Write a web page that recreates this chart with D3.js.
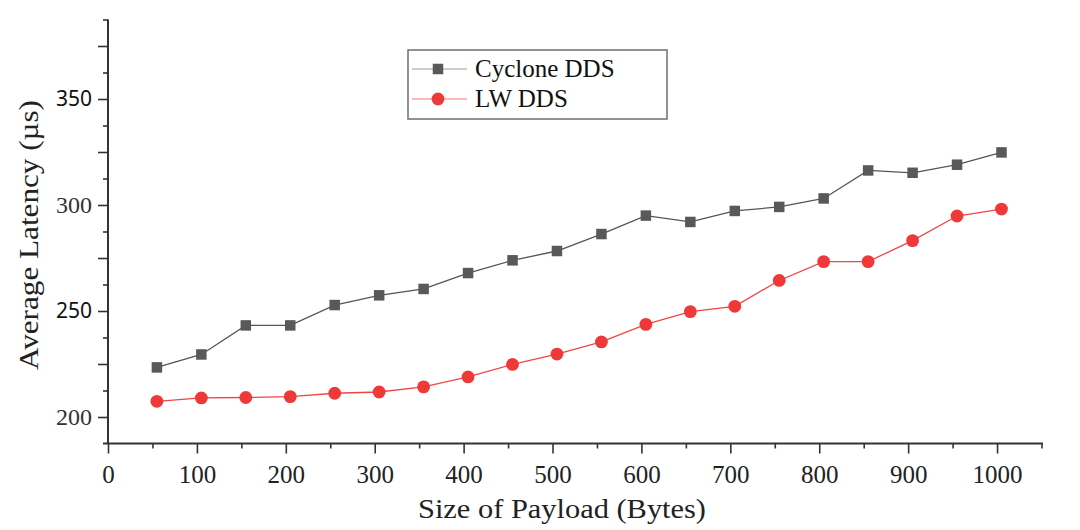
<!DOCTYPE html>
<html>
<head>
<meta charset="utf-8">
<script src="https://cdn.jsdelivr.net/npm/d3@7"></script>
<style>
  html, body { margin: 0; padding: 0; background: #fff; }
  svg { display: block; }
</style>
</head>
<body>
<svg id="chart" width="1080" height="530"></svg>
<script>
// ---- data ----
const payloadSizes = [55, 105, 155, 205, 255, 305, 355, 405, 455, 505, 555, 605, 655, 705, 755, 805, 855, 905, 955, 1005];
const cycloneLatency = [223.4, 229.5, 243.2, 243.2, 252.8, 257.4, 260.4, 267.9, 273.9, 278.3, 286.3, 295.0, 292.0, 297.2, 299.1, 303.1, 316.3, 315.2, 319.0, 324.8];
const lwLatency = [207.4, 209.0, 209.2, 209.6, 211.2, 211.8, 214.2, 218.9, 224.8, 229.7, 235.4, 243.7, 249.7, 252.2, 264.4, 273.3, 273.3, 283.2, 294.8, 298.1];
const seriesNames = ["Cyclone DDS", "LW DDS"];
const xTickLabels = [0, 100, 200, 300, 400, 500, 600, 700, 800, 900, 1000];
const yTickLabels = [200, 250, 300, 350];
const xTitle = "Size of Payload (Bytes)";
const yTitle = "Average Latency (µs)";

// ---- layout ----
const svg = d3.select("#chart");
const serif = "'Liberation Serif', 'Times New Roman', serif";
const x = d3.scaleLinear().domain([0, 1050]).range([108, 1041.5]);
const y = d3.scaleLinear().domain([187.5, 387.5]).range([443.5, 19.5]);
const axisColor = "#333";

// y axis: major (every 25) + minor (every 12.5)
const yMajor = d3.range(200, 387.5, 25);
const yMinor = d3.range(212.5, 390, 25);
const gyMinor = svg.append("g").attr("transform", `translate(${x(0)},0)`)
  .call(d3.axisLeft(y).tickValues(yMinor).tickSize(5).tickFormat(""));
const gy = svg.append("g").attr("transform", `translate(${x(0)},0)`)
  .call(d3.axisLeft(y).tickValues(yMajor).tickSize(10).tickPadding(6)
    .tickFormat(d => yTickLabels.includes(d) ? String(d) : ""));
[gy, gyMinor].forEach(g => {
  g.select(".domain").remove();
  g.selectAll(".tick line").attr("stroke", axisColor).attr("stroke-width", 1.6);
});
gy.selectAll(".tick text")
  .attr("font-family", d => (d === 350 || d === 250) ? "'Noto Sans', 'Open Sans', sans-serif" : serif)
  .attr("font-size", d => (d === 350 || d === 250) ? 21 : 24)
  .attr("fill", d => (d === 350 || d === 250) ? "#111" : "#333");
svg.append("line")
  .attr("x1", x(0)).attr("x2", x(0)).attr("y1", y(387.5)).attr("y2", y(187.5))
  .attr("stroke", axisColor).attr("stroke-width", 2);

// x axis: major (every 100) + minor (every 50)
const xMinor = d3.range(50, 1100, 100);
const gxMinor = svg.append("g").attr("transform", `translate(0,${y(187.5)})`)
  .call(d3.axisBottom(x).tickValues(xMinor).tickSize(5).tickFormat(""));
const gx = svg.append("g").attr("transform", `translate(0,${y(187.5)})`)
  .call(d3.axisBottom(x).tickValues(xTickLabels).tickSize(10).tickPadding(12)
    .tickFormat(d => String(d)));
[gx, gxMinor].forEach(g => {
  g.select(".domain").remove();
  g.selectAll(".tick line").attr("stroke", axisColor).attr("stroke-width", 1.6);
});
gx.selectAll(".tick text")
  .attr("font-family", serif).attr("font-size", 25).attr("fill", "#222");
svg.append("line")
  .attr("x1", x(0) - 5).attr("x2", x(1050) + 1.5).attr("y1", y(187.5)).attr("y2", y(187.5))
  .attr("stroke", axisColor).attr("stroke-width", 2);

// axis titles
svg.append("text")
  .attr("x", 418).attr("y", 518)
  .attr("font-family", serif).attr("font-size", 28).attr("fill", "#222")
  .attr("textLength", 288).attr("lengthAdjust", "spacingAndGlyphs")
  .text(xTitle);
svg.append("text")
  .attr("transform", "translate(38,235) rotate(-90)")
  .attr("text-anchor", "middle")
  .attr("font-family", serif).attr("font-size", 28).attr("fill", "#222")
  .attr("textLength", 270).attr("lengthAdjust", "spacingAndGlyphs")
  .text(yTitle);

// ---- series ----
const cycloneColor = "#595959";
const lwColor = "#ef3838";
const line = d3.line().x(d => x(d[0])).y(d => y(d[1]));
const cyData = payloadSizes.map((s, i) => [s, cycloneLatency[i]]);
const lwData = payloadSizes.map((s, i) => [s, lwLatency[i]]);

svg.append("path").datum(cyData).attr("d", line)
  .attr("fill", "none").attr("stroke", "#555").attr("stroke-width", 1.3);
svg.append("path").datum(lwData).attr("d", line)
  .attr("fill", "none").attr("stroke", "#f04545").attr("stroke-width", 1.3);

const sq = 10.5;
svg.append("g").selectAll("rect").data(cyData).join("rect")
  .attr("x", d => x(d[0]) - sq / 2).attr("y", d => y(d[1]) - sq / 2)
  .attr("width", sq).attr("height", sq).attr("fill", cycloneColor);
svg.append("g").selectAll("circle").data(lwData).join("circle")
  .attr("cx", d => x(d[0])).attr("cy", d => y(d[1])).attr("r", 6.4)
  .attr("fill", lwColor);

// ---- legend ----
const lg = svg.append("g");
lg.append("rect").attr("x", 408).attr("y", 50).attr("width", 259).attr("height", 69)
  .attr("fill", "#fff").attr("stroke", "#777").attr("stroke-width", 1.6);
const rows = [
  { name: seriesNames[0], cy: 69, lineColor: "#bdbdbd" },
  { name: seriesNames[1], cy: 99, lineColor: "#f6a5a5" }
];
rows.forEach((r, i) => {
  lg.append("line").attr("x1", 412).attr("x2", 467).attr("y1", r.cy).attr("y2", r.cy)
    .attr("stroke", r.lineColor).attr("stroke-width", 1.3);
  if (i === 0) {
    lg.append("rect").attr("x", 438 - sq / 2).attr("y", r.cy - sq / 2)
      .attr("width", sq).attr("height", sq).attr("fill", cycloneColor);
  } else {
    lg.append("circle").attr("cx", 438).attr("cy", r.cy).attr("r", 6.4).attr("fill", lwColor);
  }
  lg.append("text").attr("x", 475).attr("y", r.cy + 8)
    .attr("font-family", serif).attr("font-size", 25).attr("fill", "#111")
    .text(r.name);
});
</script>
</body>
</html>
